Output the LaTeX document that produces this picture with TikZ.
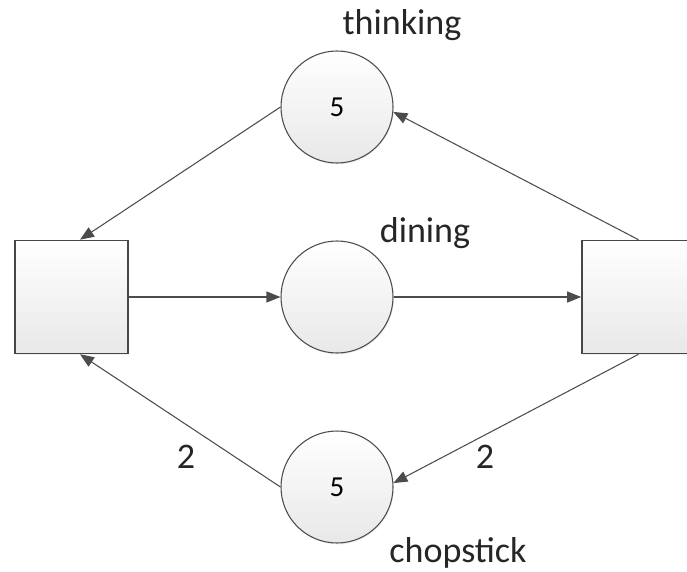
\documentclass[tikz,border=0pt]{standalone}
\usepackage{fontspec}
\setmainfont{Carlito}
\usepackage{tikz}
\usetikzlibrary{arrows.meta,shadows}

\begin{document}
\begin{tikzpicture}[
        line/.style={draw=black!70,line width=0.6pt},
        arc/.style={line,-{Triangle[length=0.28cm,width=0.22cm]}},
        place/.style={circle,line,minimum size=2.24cm,inner sep=0pt,
            top color=white,bottom color=black!9,
            drop shadow={opacity=0.12,shadow xshift=0.5pt,shadow yshift=-0.8pt},
            font=\fontsize{16.5}{19}\selectfont},
        trans/.style={rectangle,draw=black!72,line width=0.9pt,minimum size=2.26cm,
            top color=white,bottom color=black!9,
            drop shadow={opacity=0.12,shadow xshift=0.5pt,shadow yshift=-0.8pt}},
        lab/.style={anchor=base,inner sep=0pt,font=\fontsize{20.5}{24}\selectfont,text=black!85}]
        \useasboundingbox (0,0) rectangle (13.74,11.42);
        \clip (0,0) rectangle (13.74,11.42);
        % places
        \node[place] (T) at (6.74,9.28) {5};
        \node[place] (D) at (6.74,5.48) {};
        \node[place] (C) at (6.74,1.68) {5};
        % transitions
        \node[trans] (L) at (1.43,5.48) {};
        \node[trans] (R) at (12.77,5.48) {};
        % labels
        \node[lab] (Tl) at (8.04,10.72) {thinking};
        \node[lab] (Dl) at (8.50,6.58) {dining};
        \node[lab] (Cl) at (9.16,0.18) {chopstick};
        \node[lab] (W1) at (3.72,2.06) {2};
        \node[lab] (W2) at (9.70,2.06) {2};
        % arcs
        \draw[arc] (T.west) -- ([xshift=0.17cm]L.north);
        \draw[arc] (R.north) -- (T.-5);
        \draw[arc] (L.east) -- (D.west);
        \draw[arc] (D.east) -- (R.west);
        \draw[arc] (R.south) -- (C.4);
        \draw[arc] (C.west) -- ([xshift=0.17cm]L.south);
\end{tikzpicture}
\end{document}
